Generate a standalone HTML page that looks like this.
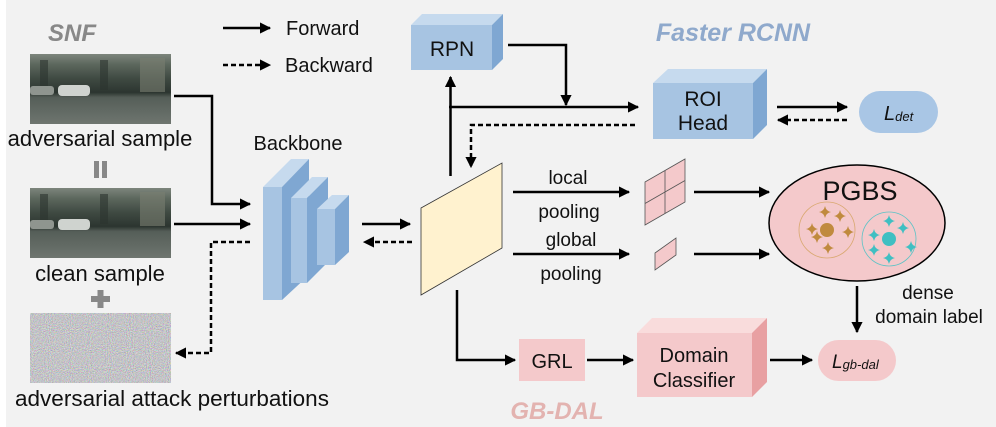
<!DOCTYPE html>
<html><head><meta charset="utf-8"><style>
html,body{margin:0;padding:0;background:#f2f2f2}
svg{display:block}
text{font-family:"Liberation Sans",sans-serif}
</style></head><body>
<svg width="996" height="427" viewBox="0 0 996 427" xmlns="http://www.w3.org/2000/svg">
<defs>
<marker id="ah" viewBox="0 0 10 10" refX="9" refY="5" markerWidth="4.5" markerHeight="4.5" orient="auto" markerUnits="strokeWidth"><path d="M0,0 L10,5 L0,10 z" fill="#000"/></marker>
<linearGradient id="street" x1="0" y1="0" x2="0" y2="1">
<stop offset="0" stop-color="#7d857c"/><stop offset="0.15" stop-color="#5c675d"/><stop offset="0.35" stop-color="#3f4a42"/><stop offset="0.55" stop-color="#2c3530"/><stop offset="0.62" stop-color="#555e58"/><stop offset="1" stop-color="#6e756f"/></linearGradient>
<filter id="noise" x="0" y="0" width="100%" height="100%"><feTurbulence type="fractalNoise" baseFrequency="0.95" numOctaves="2" seed="3"/><feColorMatrix type="matrix" values="0.9 0 0 0 0.1  0 0.9 0 0 0.1  0 0 0.9 0 0.12  0 0 0 0 1"/></filter>
<symbol id="star" viewBox="-5 -5 10 10"><path d="M0,-5 Q0.8,-0.8 5,0 Q0.8,0.8 0,5 Q-0.8,0.8 -5,0 Q-0.8,-0.8 0,-5z"/></symbol>
</defs>
<rect x="0" y="0" width="996" height="427" fill="#f2f2f2"/>
<rect x="0" y="0" width="6" height="427" fill="#fff"/>

<text x="48" y="41" font-size="24" font-weight="bold" font-style="italic" fill="#888">SNF</text>

<g>
<rect x="30" y="54" width="141" height="70" fill="url(#street)"/>
<rect x="40" y="60" width="8" height="30" fill="#2c332e" opacity="0.6"/>
<rect x="100" y="60" width="8" height="30" fill="#2c332e" opacity="0.6"/>
<rect x="140" y="58" width="25" height="34" fill="#7a7e72" opacity="0.6"/>
<rect x="58" y="85" width="32" height="11" rx="4" fill="#cfd3cf"/>
<rect x="30" y="86" width="24" height="9" rx="3" fill="#8f958f"/>
<rect x="30" y="188" width="141" height="70" fill="url(#street)"/>
<rect x="40" y="194" width="8" height="30" fill="#2c332e" opacity="0.6"/>
<rect x="100" y="194" width="8" height="30" fill="#2c332e" opacity="0.6"/>
<rect x="140" y="192" width="25" height="34" fill="#7a7e72" opacity="0.6"/>
<rect x="58" y="219" width="32" height="11" rx="4" fill="#cfd3cf"/>
<rect x="30" y="220" width="24" height="9" rx="3" fill="#8f958f"/>
<rect x="30" y="313" width="141" height="70" fill="#888" filter="url(#noise)"/>
</g>
<text x="100" y="146" font-size="22" text-anchor="middle" fill="#111">adversarial sample</text>
<rect x="94" y="161" width="5" height="17" fill="#888"/><rect x="102" y="161" width="5" height="17" fill="#888"/>
<text x="100" y="281" font-size="22" text-anchor="middle" fill="#111">clean sample</text>
<rect x="91" y="296" width="19" height="6" fill="#888"/><rect x="97.5" y="290" width="6" height="18" fill="#888"/>
<text x="172" y="406" font-size="22.5" text-anchor="middle" fill="#111">adversarial attack perturbations</text>

<line x1="223" y1="28" x2="270" y2="28" stroke="#000" stroke-width="2.5" marker-end="url(#ah)"/>
<text x="286" y="35" font-size="20" fill="#111">Forward</text>
<line x1="223" y1="65" x2="270" y2="65" stroke="#000" stroke-width="2.5" stroke-dasharray="5,3" marker-end="url(#ah)"/>
<text x="285" y="72" font-size="20" fill="#111">Backward</text>

<polyline points="174,96 212,96 212,204 250,204" fill="none" stroke="#000" stroke-width="2.5" marker-end="url(#ah)"/>
<line x1="174" y1="224" x2="250" y2="224" stroke="#000" stroke-width="2.5" marker-end="url(#ah)"/>
<polyline points="250,242 211,242 211,353 176,353" fill="none" stroke="#000" stroke-width="2.5" stroke-dasharray="5,3" marker-end="url(#ah)"/>

<text x="298" y="150" font-size="20" text-anchor="middle" fill="#111">Backbone</text>
<g>
<polygon points="263,187 291,159 309,159 282,187" fill="#c6daee"/>
<polygon points="282,187 309,159 309,275 282,300" fill="#7fa7d2"/>
<rect x="263" y="187" width="19" height="113" fill="#a7c4e2"/>
<polygon points="291,198 312,177 328,177 307,198" fill="#c6daee"/>
<polygon points="307,198 328,177 328,262 307,283" fill="#7fa7d2"/>
<rect x="291" y="198" width="16" height="85" fill="#a7c4e2"/>
<polygon points="317,209 332,195 349,195 335,209" fill="#c6daee"/>
<polygon points="335,209 349,195 349,252 335,265" fill="#7fa7d2"/>
<rect x="317" y="209" width="18" height="56" fill="#a7c4e2"/>
</g>
<line x1="362" y1="224" x2="410" y2="224" stroke="#000" stroke-width="2.5" marker-end="url(#ah)"/>
<line x1="412" y1="242" x2="364" y2="242" stroke="#000" stroke-width="2.5" stroke-dasharray="5,3" marker-end="url(#ah)"/>

<polygon points="421,208 502,163 502,248 421,295" fill="#fff2cf" stroke="#333" stroke-width="0.8"/>

<polygon points="411,25 422,14 503,14 492,25" fill="#c6daee"/>
<polygon points="492,25 503,14 503,59 492,70" fill="#7fa7d2"/>
<rect x="411" y="25" width="81" height="45" fill="#a7c4e2"/>
<text x="452" y="56" font-size="21" text-anchor="middle" fill="#111">RPN</text>

<text x="733" y="41" font-size="25" font-weight="bold" font-style="italic" text-anchor="middle" fill="#8fa9cc">Faster RCNN</text>

<line x1="450.5" y1="176" x2="450.5" y2="77" stroke="#000" stroke-width="2.5" marker-end="url(#ah)"/>
<line x1="449" y1="107" x2="638" y2="107" stroke="#000" stroke-width="2.5" marker-end="url(#ah)"/>
<polyline points="508,45 566,45 566,105" fill="none" stroke="#000" stroke-width="2.5" marker-end="url(#ah)"/>
<polyline points="635,125 471,125 471,167" fill="none" stroke="#000" stroke-width="2.5" stroke-dasharray="5,3" marker-end="url(#ah)"/>

<polygon points="653,83 668,69 767,69 753,83" fill="#c6daee"/>
<polygon points="753,83 767,69 767,125 753,139" fill="#7fa7d2"/>
<rect x="653" y="83" width="100" height="56" fill="#a7c4e2"/>
<text x="703" y="106" font-size="21" text-anchor="middle" fill="#111">ROI</text>
<text x="703" y="130" font-size="21" text-anchor="middle" fill="#111">Head</text>
<line x1="777" y1="107" x2="847" y2="107" stroke="#000" stroke-width="2.5" marker-end="url(#ah)"/>
<line x1="847" y1="120" x2="778" y2="120" stroke="#000" stroke-width="2.5" stroke-dasharray="5,3" marker-end="url(#ah)"/>
<rect x="859" y="91" width="79" height="42" rx="21" fill="#a9c6e5"/>
<text x="884" y="120" font-size="20" font-style="italic" fill="#111">L<tspan font-size="13" dy="1">det</tspan></text>

<line x1="513" y1="192" x2="629" y2="192" stroke="#000" stroke-width="2.5" marker-end="url(#ah)"/>
<text x="568" y="184" font-size="19" text-anchor="middle" fill="#111">local</text>
<text x="569" y="218" font-size="19" text-anchor="middle" fill="#111">pooling</text>
<line x1="513" y1="254" x2="629" y2="254" stroke="#000" stroke-width="2.5" marker-end="url(#ah)"/>
<text x="571" y="246" font-size="19" text-anchor="middle" fill="#111">global</text>
<text x="571" y="280" font-size="19" text-anchor="middle" fill="#111">pooling</text>
<polygon points="645,182 685,159 685,202 645,225" fill="#f4c9cb" stroke="#555" stroke-width="0.8"/>
<line x1="665" y1="170.5" x2="665" y2="213.5" stroke="#555" stroke-width="0.8"/>
<line x1="645" y1="203.5" x2="685" y2="180.5" stroke="#555" stroke-width="0.8"/>
<polygon points="655,253 676,238 676,255 655,270" fill="#f4c9cb" stroke="#555" stroke-width="0.8"/>
<line x1="694" y1="192" x2="769" y2="192" stroke="#000" stroke-width="2.5" marker-end="url(#ah)"/>
<line x1="694" y1="254" x2="769" y2="254" stroke="#000" stroke-width="2.5" marker-end="url(#ah)"/>

<ellipse cx="857" cy="223" rx="88" ry="58" fill="#f4c9cb" stroke="#000" stroke-width="1.5"/>
<text x="860" y="200" font-size="27" text-anchor="middle" fill="#111">PGBS</text>
<circle cx="827" cy="230" r="28" fill="none" stroke="#d9a870" stroke-width="0.8"/>
<circle cx="827" cy="230" r="7" fill="#c08a3e"/>
<g fill="#c08a3e">
<use href="#star" x="819" y="206" width="12" height="12"/>
<use href="#star" x="834" y="210" width="12" height="12"/>
<use href="#star" x="806" y="223" width="12" height="12"/>
<use href="#star" x="842" y="226" width="12" height="12"/>
<use href="#star" x="811" y="231" width="12" height="12"/>
<use href="#star" x="822" y="242" width="12" height="12"/>
</g>
<circle cx="889" cy="239" r="27" fill="none" stroke="#5cc3c6" stroke-width="0.8"/>
<circle cx="889" cy="239" r="7" fill="#3fbfc2"/>
<g fill="#3fbfc2">
<use href="#star" x="883" y="215" width="12" height="12"/>
<use href="#star" x="897" y="222" width="12" height="12"/>
<use href="#star" x="868" y="229" width="12" height="12"/>
<use href="#star" x="905" y="241" width="12" height="12"/>
<use href="#star" x="868" y="244" width="12" height="12"/>
<use href="#star" x="883" y="252" width="12" height="12"/>
</g>
<line x1="857" y1="286" x2="857" y2="332" stroke="#000" stroke-width="2.5" marker-end="url(#ah)"/>
<text x="928" y="299" font-size="19" text-anchor="middle" fill="#111">dense</text>
<text x="929" y="323" font-size="19" text-anchor="middle" fill="#111">domain label</text>

<polyline points="457,290 457,360 515,360" fill="none" stroke="#000" stroke-width="2.5" marker-end="url(#ah)"/>
<rect x="519" y="339" width="66" height="42" fill="#f4c9cb"/>
<text x="552" y="368" font-size="20" text-anchor="middle" fill="#111">GRL</text>
<line x1="587" y1="360" x2="633" y2="360" stroke="#000" stroke-width="2.5" marker-end="url(#ah)"/>
<polygon points="637,333 652,318 767,318 752,333" fill="#f9dcdc"/>
<polygon points="752,333 767,318 767,382 752,397" fill="#e8a0a2"/>
<rect x="637" y="333" width="115" height="64" fill="#f4c9cb"/>
<text x="694" y="362" font-size="20" text-anchor="middle" fill="#111">Domain</text>
<text x="694" y="387" font-size="20" text-anchor="middle" fill="#111">Classifier</text>
<line x1="770" y1="360" x2="812" y2="360" stroke="#000" stroke-width="2.5" marker-end="url(#ah)"/>
<rect x="818" y="340" width="78" height="41" rx="20.5" fill="#f4c9cb"/>
<text x="832" y="368" font-size="19" font-style="italic" fill="#111">L<tspan font-size="13" dy="1">gb-dal</tspan></text>
<text x="557" y="419" font-size="24" font-weight="bold" font-style="italic" text-anchor="middle" fill="#e3b3b0">GB-DAL</text>
</svg>
</body></html>
